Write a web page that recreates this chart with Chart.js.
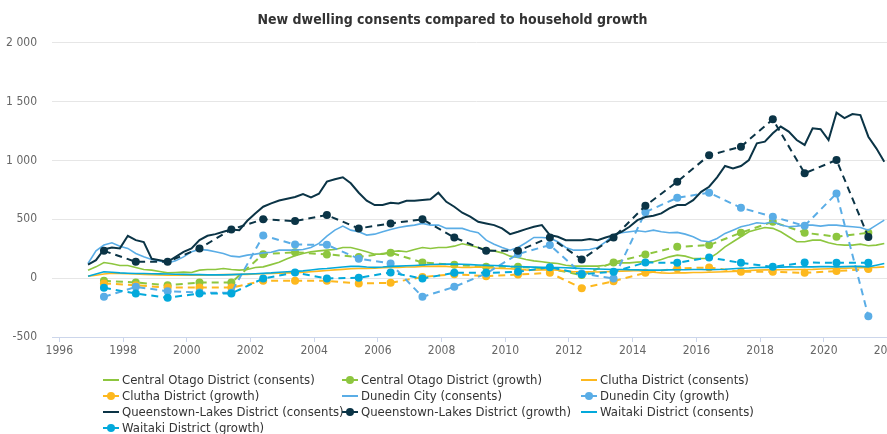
<!DOCTYPE html>
<html>
<head>
<meta charset="utf-8">
<script src="https://cdn.jsdelivr.net/npm/chart.js@4/dist/chart.umd.min.js"></script>
<style>
    body { margin: 0; width: 887px; height: 434px; overflow: hidden; background: #fff; }
    #wrap { position: relative; width: 905px; height: 434px; }
    #legend { position: absolute; left: 0; top: 0; width: 887px; height: 434px; pointer-events: none;
              font-family: "Liberation Sans Narrow", "DejaVu Sans Condensed", sans-serif; font-size: 13px; color: #333; }
    .item { position: absolute; height: 16px; line-height: 16px; white-space: nowrap; }
    .sym { position: absolute; left: 0; top: 7px; width: 16px; height: 0; border-top: 2px solid; }
    .sym.dash { border-top-style: dashed; }
    .dot { position: absolute; left: 4px; top: -5px; width: 8px; height: 8px; border-radius: 50%; }
    .lbl { position: absolute; left: 19px; top: 0; }
</style>
</head>
<body>
<div id="wrap">
    <canvas id="dwellingChart" width="905" height="366"></canvas>
    <div id="legend"></div>
</div>
<script>
// quarterly points of the rolling consents series (decimal years)
const consentYears = [
    1996.9,
    1997.15, 1997.4, 1997.65, 1997.9,
    1998.15, 1998.4, 1998.65, 1998.9,
    1999.15, 1999.4, 1999.65, 1999.9,
    2000.15, 2000.4, 2000.65, 2000.9,
    2001.15, 2001.4, 2001.65, 2001.9,
    2002.15, 2002.4, 2002.65, 2002.9,
    2003.15, 2003.4, 2003.65, 2003.9,
    2004.15, 2004.4, 2004.65, 2004.9,
    2005.15, 2005.4, 2005.65, 2005.9,
    2006.15, 2006.4, 2006.65, 2006.9,
    2007.15, 2007.4, 2007.65, 2007.9,
    2008.15, 2008.4, 2008.65, 2008.9,
    2009.15, 2009.4, 2009.65, 2009.9,
    2010.15, 2010.4, 2010.65, 2010.9,
    2011.15, 2011.4, 2011.65, 2011.9,
    2012.15, 2012.4, 2012.65, 2012.9,
    2013.15, 2013.4, 2013.65, 2013.9,
    2014.15, 2014.4, 2014.65, 2014.9,
    2015.15, 2015.4, 2015.65, 2015.9,
    2016.15, 2016.4, 2016.65, 2016.9,
    2017.15, 2017.4, 2017.65, 2017.9,
    2018.15, 2018.4, 2018.65, 2018.9,
    2019.15, 2019.4, 2019.65, 2019.9,
    2020.15, 2020.4, 2020.65, 2020.9,
    2021.15, 2021.4, 2021.65, 2021.9
];
// yearly household growth points (June years)
const growthYears = [
    1997.4, 1998.4, 1999.4, 2000.4, 2001.4, 2002.4, 2003.4, 2004.4, 2005.4, 2006.4,
    2007.4, 2008.4, 2009.4, 2010.4, 2011.4, 2012.4, 2013.4, 2014.4, 2015.4, 2016.4,
    2017.4, 2018.4, 2019.4, 2020.4, 2021.4
];
const xTickYears = [1996, 1998, 2000, 2002, 2004, 2006, 2008, 2010, 2012, 2014, 2016, 2018, 2020, 2022];
const yTickValues = [-500, 0, 500, 1000, 1500, 2000];

const centralOtagoConsents = [
    68,
    96, 133, 122, 108, 108, 91, 74, 68, 57, 45, 48, 51, 48, 68, 74, 74, 82, 74, 68, 74,
    91, 96, 115, 135, 165, 190, 210, 224, 232, 238, 244, 261, 261, 244, 224, 204, 204, 224, 232, 224,
    244, 261, 252, 261, 261, 272, 292, 278, 261, 244, 232, 215, 187, 176, 159, 147, 139, 130, 125, 110,
    102, 102, 102, 102, 110, 125, 130, 130, 136, 139, 139, 159, 181, 196, 187, 167, 167, 167, 210, 266,
    309, 352, 394, 414, 431, 423, 394, 352, 309, 309, 323, 323, 301, 286, 281, 281, 289, 275, 281, 295
];
const centralOtagoGrowth = [-23, -37, -60, -37, -37, 204, 220, 202, 180, 216, 133, 113, 96, 96, 80, 26, 133, 201, 266, 281, 386, 479, 386, 352, 386];

const cluthaConsents = [
    17,
    25, 35, 42, 40, 38, 35, 32, 30, 28, 25, 25, 25, 25, 25, 27, 28, 30, 30, 32, 32,
    35, 38, 40, 42, 45, 45, 50, 55, 60, 65, 70, 75, 80, 82, 82, 85, 88, 90, 92, 95,
    95, 100, 100, 102, 100, 95, 90, 92, 95, 90, 85, 82, 80, 75, 70, 68, 70, 72, 68, 60,
    55, 55, 55, 52, 55, 58, 60, 62, 65, 55, 50, 45, 42, 45, 45, 48, 48, 50, 52, 55,
    58, 60, 65, 68, 70, 70, 72, 72, 74, 74, 75, 78, 80, 82, 84, 86, 88, 90, 92, 96
];
const cluthaGrowth = [-45, -60, -80, -80, -80, -23, -23, -23, -45, -40, 10, 34, 17, 31, 45, -85, -26, 45, 82, 91, 54, 54, 45, 60, 77];

const dunedinConsents = [
    125,
    232, 281, 301, 272, 253, 210, 181, 159, 147, 130, 147, 181, 224, 244, 238, 224, 210, 187, 181, 196,
    204, 215, 220, 238, 238, 238, 244, 261, 295, 357, 408, 442, 408, 394, 366, 374, 394, 414, 431, 442,
    451, 465, 451, 451, 423, 423, 423, 400, 386, 323, 289, 261, 238, 261, 301, 346, 346, 340, 309, 261,
    238, 238, 244, 261, 309, 366, 386, 394, 403, 394, 408, 394, 386, 389, 374, 352, 318, 309, 337, 380,
    408, 437, 451, 471, 465, 479, 451, 437, 442, 451, 451, 442, 451, 451, 442, 437, 431, 408, 451, 493
];
const dunedinGrowth = [-159, -74, -111, -122, -125, 362, 286, 283, 166, 125, -159, -74, 40, 205, 281, 40, -3, 561, 683, 726, 598, 522, 445, 720, -323];

const queenstownConsents = [
    116,
    153, 244, 261, 253, 360, 323, 306, 164, 153, 139, 181, 224, 253, 323, 360, 374, 394, 414, 408, 488,
    550, 607, 635, 660, 675, 690, 715, 687, 717, 820, 840, 857, 806, 726, 658, 621, 621, 641, 635, 658,
    658, 664, 670, 726, 649, 607, 556, 522, 479, 465, 451, 423, 374, 394, 417, 437, 451, 366, 352, 323,
    323, 323, 332, 323, 346, 366, 394, 437, 493, 520, 530, 550, 593, 621, 621, 663, 734, 777, 857, 953,
    933, 953, 1004, 1146, 1160, 1231, 1288, 1245, 1174, 1132, 1274, 1266, 1174, 1406, 1360, 1395, 1386, 1202, 1103, 990
];
const queenstownGrowth = [232, 139, 139, 253, 414, 500, 485, 536, 423, 465, 500, 346, 232, 232, 346, 159, 346, 615, 820, 1044, 1117, 1350, 891, 1004, 349];

const waitakiConsents = [
    17,
    35, 54, 50, 45, 42, 40, 40, 38, 36, 35, 33, 32, 30, 30, 28, 28, 28, 30, 32, 35,
    38, 42, 45, 50, 54, 58, 62, 70, 78, 82, 88, 95, 100, 100, 95, 92, 95, 100, 102, 105,
    108, 112, 116, 118, 120, 119, 118, 115, 112, 110, 108, 104, 100, 98, 96, 94, 92, 91, 90, 88,
    85, 82, 80, 78, 76, 74, 74, 72, 70, 68, 68, 68, 70, 72, 72, 74, 74, 72, 74, 76,
    80, 84, 86, 90, 92, 92, 94, 96, 95, 96, 96, 98, 98, 96, 98, 100, 100, 96, 110, 125
];
const waitakiGrowth = [-82, -130, -167, -130, -130, -3, 48, -3, 3, 48, -3, 45, 45, 54, 93, 34, 54, 133, 130, 176, 130, 96, 133, 130, 130];

const seriesList = [
    { label: 'Central Otago District (consents)', years: consentYears, values: centralOtagoConsents, color: '#8dc63f', growth: false },
    { label: 'Central Otago District (growth)', years: growthYears, values: centralOtagoGrowth, color: '#8dc63f', growth: true },
    { label: 'Clutha District (consents)', years: consentYears, values: cluthaConsents, color: '#fdb81e', growth: false },
    { label: 'Clutha District (growth)', years: growthYears, values: cluthaGrowth, color: '#fdb81e', growth: true },
    { label: 'Dunedin City (consents)', years: consentYears, values: dunedinConsents, color: '#5aade6', growth: false },
    { label: 'Dunedin City (growth)', years: growthYears, values: dunedinGrowth, color: '#5aade6', growth: true },
    { label: 'Queenstown-Lakes District (consents)', years: consentYears, values: queenstownConsents, color: '#0b3446', growth: false },
    { label: 'Queenstown-Lakes District (growth)', years: growthYears, values: queenstownGrowth, color: '#0b3446', growth: true },
    { label: 'Waitaki District (consents)', years: consentYears, values: waitakiConsents, color: '#03a9db', growth: false },
    { label: 'Waitaki District (growth)', years: growthYears, values: waitakiGrowth, color: '#03a9db', growth: true }
];

document.addEventListener("DOMContentLoaded", function(){
    const ctx = document.getElementById('dwellingChart').getContext('2d');
    const narrow = '"Liberation Sans Narrow", "DejaVu Sans Condensed", sans-serif';

    const datasets = seriesList.map((s, i) => ({
        label: s.label,
        data: s.years.map((yr, j) => ({ x: yr, y: s.values[j] })),
        borderColor: s.color,
        backgroundColor: s.color,
        borderWidth: s.growth ? 2 : (s.label.startsWith('Queenstown') ? 2 : 1.6),
        borderDash: s.growth ? [7, 5] : [],
        pointRadius: s.growth ? 4 : 0,
        pointBorderWidth: 0,
        pointHoverRadius: 4,
        tension: 0,
        fill: false,
        order: seriesList.length - i
    }));

    new Chart(ctx, {
        type: 'line',
        data: { datasets: datasets },
        options: {
            responsive: false,
            animation: false,
            layout: { padding: 0 },
            plugins: {
                legend: { display: false },
                tooltip: { enabled: false },
                title: {
                    display: true,
                    text: 'New dwelling consents compared to household growth',
                    color: '#333333',
                    font: { family: narrow, size: 14, weight: 'bold', lineHeight: 1.2 },
                    padding: { top: 12, bottom: 14 }
                }
            },
            scales: {
                x: {
                    type: 'linear',
                    min: 1995.769,
                    max: 2022.425,
                    afterBuildTicks: (scale) => { scale.ticks = xTickYears.map(v => ({ value: v })); },
                    afterFit: (scale) => { scale.height = 29; },
                    border: { display: true, color: '#ccd6eb', width: 1 },
                    grid: { drawOnChartArea: false, drawTicks: true, tickLength: 5, color: '#ccd6eb' },
                    ticks: {
                        color: '#666666',
                        padding: 2,
                        maxRotation: 0,
                        autoSkip: false,
                        font: { family: narrow, size: 12 },
                        callback: (v) => String(v)
                    }
                },
                y: {
                    min: -500,
                    max: 2000,
                    afterBuildTicks: (scale) => { scale.ticks = yTickValues.map(v => ({ value: v })); },
                    afterFit: (scale) => { scale.width = 52; },
                    border: { display: false },
                    grid: { color: '#e6e6e6', drawTicks: false },
                    ticks: {
                        color: '#666666',
                        padding: 15,
                        font: { family: narrow, size: 12 },
                        callback: (v) => v.toLocaleString('en-US').replace(/,/g, ' ')
                    }
                }
            }
        }
    });

    // legend laid out in three aligned columns under the plot
    const legend = document.getElementById('legend');
    const colX = [103, 342, 581];
    seriesList.forEach((s, i) => {
        const item = document.createElement('div');
        item.className = 'item';
        item.style.left = colX[i % 3] + 'px';
        item.style.top = (372 + Math.floor(i / 3) * 16) + 'px';
        const sym = document.createElement('span');
        sym.className = s.growth ? 'sym dash' : 'sym';
        sym.style.borderColor = s.color;
        if (s.growth) {
            const dot = document.createElement('span');
            dot.className = 'dot';
            dot.style.background = s.color;
            sym.appendChild(dot);
        }
        const lbl = document.createElement('span');
        lbl.className = 'lbl';
        lbl.textContent = s.label;
        item.appendChild(sym);
        item.appendChild(lbl);
        legend.appendChild(item);
    });
});
</script>
</body>
</html>
